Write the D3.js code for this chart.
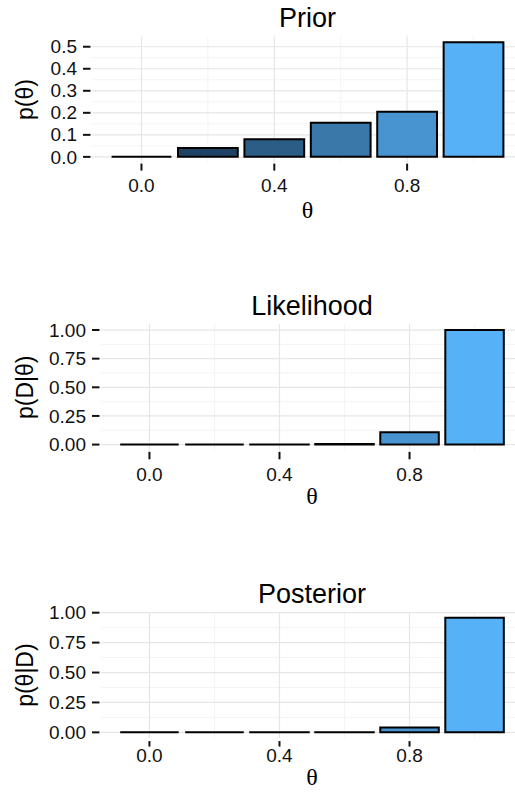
<!DOCTYPE html>
<html>
<head>
<meta charset="utf-8">
<script src="https://cdn.jsdelivr.net/npm/d3@7/dist/d3.min.js"></script>
<style>
  html, body { margin: 0; padding: 0; background: #ffffff; }
  svg { display: block; }
</style>
</head>
<body>
<svg id="chart" width="515" height="797"></svg>
<script>
// ---- data ----
const theta = [0.0, 0.2, 0.4, 0.6, 0.8, 1.0];
const prior = [0.0, 0.04, 0.08, 0.155, 0.205, 0.52];
const likelihood = [0.0, 0.0000001, 0.0001, 0.006, 0.107, 1.0];
const posterior = [0.0, 0.00000001, 0.00002, 0.0017, 0.040, 0.957];

const xTicks = [0.0, 0.4, 0.8];
const xTickLabels = ["0.0", "0.4", "0.8"];
const xMinor = [0.2, 0.6, 1.0];

const priorYTicks = [0.0, 0.1, 0.2, 0.3, 0.4, 0.5];
const priorYLabels = ["0.0", "0.1", "0.2", "0.3", "0.4", "0.5"];
const probYTicks = [0.0, 0.25, 0.5, 0.75, 1.0];
const probYLabels = ["0.00", "0.25", "0.50", "0.75", "1.00"];

const titles = ["Prior", "Likelihood", "Posterior"];
const yTitles = ["p(\u03B8)", "p(D|\u03B8)", "p(\u03B8|D)"];
const xTitle = "\u03B8";

// ---- layout ----
const panels = [
  { title: titles[0], ytitle: yTitles[0], values: prior, yTicks: priorYTicks, yLabels: priorYLabels,
    left: 92, right: 523, top: 36.6, height: 126, tick0: 1, tick1: 8, labOff: 29.6, titOff: 55.5, mainOff: 9.8 },
  { title: titles[1], ytitle: yTitles[1], values: likelihood, yTicks: probYTicks, yLabels: probYLabels,
    left: 101, right: 523, top: 324.3, height: 126, tick0: 1.5, tick1: 9, labOff: 30.6, titOff: 54, mainOff: 9.5 },
  { title: titles[2], ytitle: yTitles[2], values: posterior, yTicks: probYTicks, yLabels: probYLabels,
    left: 101, right: 523, top: 612.1, height: 126, tick0: 3, tick1: 8.5, labOff: 23.5, titOff: 47, mainOff: 9.2 }
];

const sans = "'Liberation Sans', Arial, Helvetica, sans-serif";
const serif = "'Liberation Serif', 'Times New Roman', serif";
const fill = d3.scaleLinear().domain([0, 1]).range(["#132B43", "#56B1F7"]).interpolate(d3.interpolateLab);
const barWidth = 0.18;

const svg = d3.select("#chart");

panels.forEach(p => {
  const g = svg.append("g");
  const bottom = p.top + p.height;
  const xMinD = d3.min(theta) - barWidth / 2, xMaxD = d3.max(theta) + barWidth / 2;
  const xr = xMaxD - xMinD;
  const x = d3.scaleLinear().domain([xMinD - 0.05 * xr, xMaxD + 0.05 * xr]).range([p.left, p.right]);
  const yMax = d3.max(p.values);
  const y = d3.scaleLinear().domain([-0.05 * yMax, yMax * 1.05]).range([bottom, p.top]);

  // minor grid
  const yStep = p.yTicks[1] - p.yTicks[0];
  const yMinor = p.yTicks.map(t => t + yStep / 2).filter(t => t <= y.domain()[1]);
  g.selectAll(".ymin").data(yMinor).join("line")
    .attr("x1", p.left).attr("x2", p.right)
    .attr("y1", d => y(d)).attr("y2", d => y(d))
    .attr("stroke", "#F4F4F4").attr("stroke-width", 1);
  g.selectAll(".xmin").data(xMinor).join("line")
    .attr("x1", d => x(d)).attr("x2", d => x(d))
    .attr("y1", p.top).attr("y2", bottom)
    .attr("stroke", "#F4F4F4").attr("stroke-width", 1);
  // major grid
  g.selectAll(".ymaj").data(p.yTicks).join("line")
    .attr("x1", p.left).attr("x2", p.right)
    .attr("y1", d => y(d)).attr("y2", d => y(d))
    .attr("stroke", "#E6E6E6").attr("stroke-width", 1.2);
  g.selectAll(".xmaj").data(xTicks).join("line")
    .attr("x1", d => x(d)).attr("x2", d => x(d))
    .attr("y1", p.top).attr("y2", bottom)
    .attr("stroke", "#E6E6E6").attr("stroke-width", 1.2);

  // bars (as paths so zero-height bars still show their outline)
  g.selectAll(".bar").data(theta.map((t, i) => ({ t, v: p.values[i] }))).join("path")
    .attr("d", d => {
      const x0 = x(d.t - barWidth / 2), x1 = x(d.t + barWidth / 2);
      const y0 = y(0), y1 = y(d.v);
      return `M${x0},${y0}H${x1}V${y1}H${x0}Z`;
    })
    .attr("fill", d => fill(d.t))
    .attr("stroke", "#000000").attr("stroke-width", 2)
    .attr("stroke-linejoin", "miter");

  // y ticks & labels
  g.selectAll(".ytick").data(p.yTicks).join("line")
    .attr("x1", p.left - 9).attr("x2", p.left - 1.5)
    .attr("y1", d => y(d)).attr("y2", d => y(d))
    .attr("stroke", "#111").attr("stroke-width", 2);
  g.selectAll(".ylab").data(p.yTicks).join("text")
    .attr("x", p.left - 15).attr("y", d => y(d))
    .attr("dy", "0.35em")
    .attr("text-anchor", "end")
    .attr("font-family", sans).attr("font-size", 19).attr("fill", "#111")
    .text((d, i) => p.yLabels[i]);

  // x ticks & labels
  g.selectAll(".xtick").data(xTicks).join("line")
    .attr("x1", d => x(d)).attr("x2", d => x(d))
    .attr("y1", bottom + p.tick0).attr("y2", bottom + p.tick1)
    .attr("stroke", "#111").attr("stroke-width", 2);
  g.selectAll(".xlab").data(xTicks).join("text")
    .attr("x", d => x(d)).attr("y", bottom + p.labOff)
    .attr("text-anchor", "middle")
    .attr("font-family", sans).attr("font-size", 19).attr("fill", "#111")
    .text((d, i) => xTickLabels[i]);

  // x title
  g.append("text")
    .attr("x", (p.left + p.right) / 2).attr("y", bottom + p.titOff)
    .attr("text-anchor", "middle")
    .attr("font-family", serif).attr("font-size", 24).attr("fill", "#000")
    .text(xTitle);

  // y title
  g.append("text")
    .attr("transform", `translate(33,${(p.top + bottom) / 2}) rotate(-90)`)
    .attr("text-anchor", "middle")
    .attr("font-family", sans).attr("font-size", 23).attr("fill", "#000")
    .text(p.ytitle);

  // plot title
  g.append("text")
    .attr("x", (p.left + p.right) / 2).attr("y", p.top - p.mainOff)
    .attr("text-anchor", "middle")
    .attr("font-family", sans).attr("font-size", 27).attr("fill", "#000")
    .text(p.title);
});
</script>
</body>
</html>
